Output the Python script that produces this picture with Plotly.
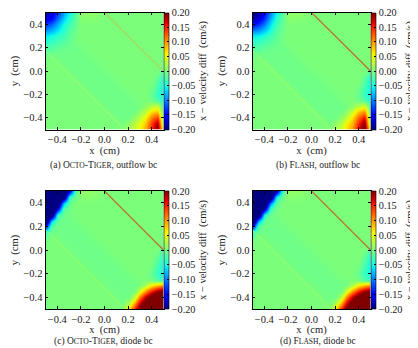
import numpy as np
import plotly.graph_objects as go

# ---------------- data ----------------
grid_x = [-0.50, -0.45, -0.40, -0.35, -0.30, -0.25, -0.20, -0.15, -0.10, -0.05, 0.00,
          0.05, 0.10, 0.15, 0.20, 0.25, 0.30, 0.35, 0.40, 0.45, 0.50]
grid_y = [0.50, 0.45, 0.40, 0.35, 0.30, 0.25, 0.20, 0.15, 0.10, 0.05, 0.00,
          -0.05, -0.10, -0.15, -0.20, -0.25, -0.30, -0.35, -0.40, -0.45, -0.50]

# rows listed top (y=0.5) to bottom (y=-0.5); columns x=-0.5 .. 0.5
vx_octo_outflow = [
    [-0.19, -0.17, -0.13, -0.09, -0.05, -0.02, 0.01, 0.012, 0.01, 0.006, 0, 0, 0, 0, 0, 0, 0, 0, 0, 0, 0],
    [-0.17, -0.15, -0.11, -0.07, -0.04, -0.015, 0.005, 0.006, 0.005, 0.003, 0, 0, 0, 0, 0, 0, 0, 0, 0, 0, 0],
    [-0.13, -0.11, -0.08, -0.05, -0.03, -0.01, 0, 0, 0, 0, 0, 0, 0, 0, 0, 0, 0, 0, 0, 0, 0],
    [-0.09, -0.08, -0.06, -0.04, -0.02, -0.008, 0, 0, 0, 0, 0, 0, 0, 0, 0, 0, 0, 0, 0, 0, 0],
    [-0.06, -0.05, -0.04, -0.03, -0.015, -0.005, 0, 0, 0, 0, 0, 0, 0, 0, 0, 0, 0, 0, 0, 0, 0],
    [-0.04, -0.035, -0.025, -0.02, -0.01, -0.004, 0, 0, 0, 0, 0, 0, 0, 0, 0, 0, 0, 0, 0, 0, 0],
    [-0.02, -0.02, -0.015, -0.01, -0.008, -0.006, -0.003, 0, 0, 0, 0, 0, 0, 0, 0, 0, 0, 0, 0, 0, 0],
    [-0.01, -0.008, -0.006, -0.006, -0.006, -0.006, -0.006, -0.003, 0, 0, 0, 0, 0, 0, 0, 0, 0, 0, 0, 0, 0],
    [-0.003, 0, -0.003, -0.006, -0.006, -0.006, -0.006, -0.006, -0.003, 0, 0, 0, 0, 0, 0, 0, 0, 0, 0, 0, 0],
    [0, 0, 0, -0.003, -0.006, -0.006, -0.006, -0.006, -0.006, -0.003, 0, 0, 0, 0, 0, 0, 0, 0, 0, 0, 0],
    [0, 0, 0, 0, -0.003, -0.006, -0.006, -0.006, -0.006, -0.006, -0.003, 0, 0, 0, 0, 0, 0, 0, 0, 0, -0.02],
    [0, 0, 0, 0, 0, -0.003, -0.006, -0.006, -0.006, -0.006, -0.006, -0.003, 0, 0, 0, 0, 0, 0, 0, -0.01, -0.04],
    [0, 0, 0, 0, 0, 0, -0.003, -0.006, -0.006, -0.006, -0.006, -0.006, -0.003, 0, 0, 0, 0, 0, 0, -0.02, -0.05],
    [0, 0, 0, 0, 0, 0, 0, -0.003, -0.006, -0.006, -0.006, -0.006, -0.006, -0.003, 0, 0, 0, 0, -0.005, -0.03, -0.05],
    [0, 0, 0, 0, 0, 0, 0, 0, -0.003, -0.006, -0.006, -0.006, -0.006, -0.006, -0.003, 0, 0, 0, -0.01, -0.035, -0.05],
    [0, 0, 0, 0, 0, 0, 0, 0, 0, -0.003, -0.006, -0.006, -0.006, -0.006, -0.006, -0.003, 0, 0, -0.005, -0.02, -0.045],
    [0, 0, 0, 0, 0, 0, 0, 0, 0, 0, -0.003, -0.006, -0.006, -0.006, -0.006, -0.006, -0.003, 0.01, 0.03, 0.04, -0.03],
    [0, 0, 0, 0, 0, 0, 0, 0, 0, 0, 0, -0.003, -0.006, -0.006, -0.006, -0.006, 0.01, 0.03, 0.07, 0.08, -0.02],
    [0, 0, 0, 0, 0, 0, 0, 0, 0, 0, 0, 0, -0.003, -0.006, -0.006, 0.01, 0.03, 0.06, 0.11, 0.14, -0.01],
    [0, 0, 0, 0, 0, 0, 0, 0, 0, 0, 0, 0, 0, -0.003, 0.01, 0.03, 0.05, 0.08, 0.14, 0.19, 0.0],
    [0, 0, 0, 0, 0, 0, 0, 0, 0, 0, 0, 0, 0, 0, 0.02, 0.04, 0.06, 0.09, 0.15, 0.20, 0.05],
]

vx_flash_outflow = [
    [-0.20, -0.19, -0.15, -0.10, -0.05, -0.02, 0.01, 0.012, 0.01, 0.006, 0, 0, 0, 0, 0, 0, 0, 0, 0, 0, 0],
    [-0.19, -0.17, -0.13, -0.08, -0.04, -0.015, 0.005, 0.006, 0.005, 0.003, 0, 0, 0, 0, 0, 0, 0, 0, 0, 0, 0],
    [-0.15, -0.13, -0.10, -0.06, -0.03, -0.01, 0, 0, 0, 0, 0, 0, 0, 0, 0, 0, 0, 0, 0, 0, 0],
    [-0.10, -0.09, -0.07, -0.045, -0.02, -0.008, 0, 0, 0, 0, 0, 0, 0, 0, 0, 0, 0, 0, 0, 0, 0],
    [-0.06, -0.055, -0.045, -0.03, -0.015, -0.005, 0, 0, 0, 0, 0, 0, 0, 0, 0, 0, 0, 0, 0, 0, 0],
    [-0.04, -0.035, -0.025, -0.02, -0.01, -0.004, 0, 0, 0, 0, 0, 0, 0, 0, 0, 0, 0, 0, 0, 0, 0],
    [-0.02, -0.02, -0.015, -0.01, -0.008, -0.006, -0.003, 0, 0, 0, 0, 0, 0, 0, 0, 0, 0, 0, 0, 0, 0],
    [-0.01, -0.008, -0.006, -0.006, -0.006, -0.006, -0.006, -0.003, 0, 0, 0, 0, 0, 0, 0, 0, 0, 0, 0, 0, 0],
    [-0.003, 0, -0.003, -0.006, -0.006, -0.006, -0.006, -0.006, -0.003, 0, 0, 0, 0, 0, 0, 0, 0, 0, 0, 0, 0],
    [0, 0, 0, -0.003, -0.006, -0.006, -0.006, -0.006, -0.006, -0.003, 0, 0, 0, 0, 0, 0, 0, 0, 0, 0, 0],
    [0, 0, 0, 0, -0.003, -0.006, -0.006, -0.006, -0.006, -0.006, -0.003, 0, 0, 0, 0, 0, 0, 0, 0, 0, -0.02],
    [0, 0, 0, 0, 0, -0.003, -0.006, -0.006, -0.006, -0.006, -0.006, -0.003, 0, 0, 0, 0, 0, 0, 0, -0.01, -0.045],
    [0, 0, 0, 0, 0, 0, -0.003, -0.006, -0.006, -0.006, -0.006, -0.006, -0.003, 0, 0, 0, 0, 0, 0, -0.02, -0.055],
    [0, 0, 0, 0, 0, 0, 0, -0.003, -0.006, -0.006, -0.006, -0.006, -0.006, -0.003, 0, 0, 0, 0, -0.005, -0.03, -0.055],
    [0, 0, 0, 0, 0, 0, 0, 0, -0.003, -0.006, -0.006, -0.006, -0.006, -0.006, -0.003, 0, 0, 0, -0.01, -0.035, -0.05],
    [0, 0, 0, 0, 0, 0, 0, 0, 0, -0.003, -0.006, -0.006, -0.006, -0.006, -0.006, -0.003, 0, 0, -0.005, -0.02, -0.045],
    [0, 0, 0, 0, 0, 0, 0, 0, 0, 0, -0.003, -0.006, -0.006, -0.006, -0.006, -0.006, -0.003, 0.01, 0.03, 0.05, -0.03],
    [0, 0, 0, 0, 0, 0, 0, 0, 0, 0, 0, -0.003, -0.006, -0.006, -0.006, -0.006, 0.01, 0.04, 0.08, 0.10, -0.02],
    [0, 0, 0, 0, 0, 0, 0, 0, 0, 0, 0, 0, -0.003, -0.006, -0.006, 0.01, 0.03, 0.07, 0.12, 0.16, -0.01],
    [0, 0, 0, 0, 0, 0, 0, 0, 0, 0, 0, 0, 0, -0.003, 0.01, 0.03, 0.06, 0.09, 0.15, 0.20, 0.0],
    [0, 0, 0, 0, 0, 0, 0, 0, 0, 0, 0, 0, 0, 0, 0.02, 0.04, 0.07, 0.10, 0.17, 0.22, 0.05],
]

vx_octo_diode = [
    [-0.25, -0.25, -0.25, -0.25, -0.17, -0.02, 0.01, 0.012, 0.01, 0.006, 0, 0, 0, 0, 0, 0, 0, 0, 0, 0, 0],
    [-0.25, -0.25, -0.25, -0.24, -0.035, -0.008, 0.005, 0.006, 0.005, 0.003, 0, 0, 0, 0, 0, 0, 0, 0, 0, 0, 0],
    [-0.25, -0.25, -0.25, -0.08, -0.012, 0, 0, 0, 0, 0, 0, 0, 0, 0, 0, 0, 0, 0, 0, 0, 0],
    [-0.25, -0.25, -0.16, -0.02, -0.005, 0, 0, 0, 0, 0, 0, 0, 0, 0, 0, 0, 0, 0, 0, 0, 0],
    [-0.25, -0.23, -0.035, -0.008, -0.003, 0, 0, 0, 0, 0, 0, 0, 0, 0, 0, 0, 0, 0, 0, 0, 0],
    [-0.25, -0.07, -0.012, -0.006, -0.006, -0.003, 0, 0, 0, 0, 0, 0, 0, 0, 0, 0, 0, 0, 0, 0, 0],
    [-0.15, -0.02, -0.006, -0.006, -0.006, -0.006, -0.003, 0, 0, 0, 0, 0, 0, 0, 0, 0, 0, 0, 0, 0, 0],
    [-0.035, -0.008, -0.006, -0.006, -0.006, -0.006, -0.006, -0.003, 0, 0, 0, 0, 0, 0, 0, 0, 0, 0, 0, 0, 0],
    [-0.01, 0, -0.003, -0.006, -0.006, -0.006, -0.006, -0.006, -0.003, 0, 0, 0, 0, 0, 0, 0, 0, 0, 0, 0, 0],
    [0, 0, 0, -0.003, -0.006, -0.006, -0.006, -0.006, -0.006, -0.003, 0, 0, 0, 0, 0, 0, 0, 0, 0, 0, 0],
    [0, 0, 0, 0, -0.003, -0.006, -0.006, -0.006, -0.006, -0.006, -0.003, 0, 0, 0, 0, 0, 0, 0, 0, 0, -0.02],
    [0, 0, 0, 0, 0, -0.003, -0.006, -0.006, -0.006, -0.006, -0.006, -0.003, 0, 0, 0, 0, 0, 0, 0, -0.01, -0.04],
    [0, 0, 0, 0, 0, 0, -0.003, -0.006, -0.006, -0.006, -0.006, -0.006, -0.003, 0, 0, 0, 0, 0, 0, -0.02, -0.05],
    [0, 0, 0, 0, 0, 0, 0, -0.003, -0.006, -0.006, -0.006, -0.006, -0.006, -0.003, 0, 0, 0, 0, -0.005, -0.03, -0.05],
    [0, 0, 0, 0, 0, 0, 0, 0, -0.003, -0.006, -0.006, -0.006, -0.006, -0.006, -0.003, 0, 0, 0, -0.01, -0.035, -0.05],
    [0, 0, 0, 0, 0, 0, 0, 0, 0, -0.003, -0.006, -0.006, -0.006, -0.006, -0.006, -0.003, 0, 0, -0.005, -0.02, -0.035],
    [0, 0, 0, 0, 0, 0, 0, 0, 0, 0, -0.003, -0.006, -0.006, -0.006, -0.006, -0.006, -0.003, 0.02, 0.06, 0.08, 0.10],
    [0, 0, 0, 0, 0, 0, 0, 0, 0, 0, 0, -0.003, -0.006, -0.006, -0.006, -0.006, 0.04, 0.10, 0.15, 0.19, 0.21],
    [0, 0, 0, 0, 0, 0, 0, 0, 0, 0, 0, 0, -0.003, -0.006, -0.006, 0.03, 0.11, 0.18, 0.23, 0.25, 0.25],
    [0, 0, 0, 0, 0, 0, 0, 0, 0, 0, 0, 0, 0, -0.003, 0.02, 0.09, 0.17, 0.23, 0.25, 0.25, 0.25],
    [0, 0, 0, 0, 0, 0, 0, 0, 0, 0, 0, 0, 0, 0, 0.07, 0.15, 0.22, 0.25, 0.25, 0.25, 0.25],
]

vx_flash_diode = [
    [-0.25, -0.25, -0.25, -0.25, -0.19, -0.03, 0.01, 0.012, 0.01, 0.006, 0, 0, 0, 0, 0, 0, 0, 0, 0, 0, 0],
    [-0.25, -0.25, -0.25, -0.24, -0.05, -0.01, 0.005, 0.006, 0.005, 0.003, 0, 0, 0, 0, 0, 0, 0, 0, 0, 0, 0],
    [-0.25, -0.25, -0.25, -0.10, -0.015, 0, 0, 0, 0, 0, 0, 0, 0, 0, 0, 0, 0, 0, 0, 0, 0],
    [-0.25, -0.25, -0.18, -0.025, -0.005, 0, 0, 0, 0, 0, 0, 0, 0, 0, 0, 0, 0, 0, 0, 0, 0],
    [-0.25, -0.23, -0.04, -0.008, -0.003, 0, 0, 0, 0, 0, 0, 0, 0, 0, 0, 0, 0, 0, 0, 0, 0],
    [-0.25, -0.08, -0.012, -0.006, -0.006, -0.003, 0, 0, 0, 0, 0, 0, 0, 0, 0, 0, 0, 0, 0, 0, 0],
    [-0.16, -0.02, -0.006, -0.006, -0.006, -0.006, -0.003, 0, 0, 0, 0, 0, 0, 0, 0, 0, 0, 0, 0, 0, 0],
    [-0.035, -0.008, -0.006, -0.006, -0.006, -0.006, -0.006, -0.003, 0, 0, 0, 0, 0, 0, 0, 0, 0, 0, 0, 0, 0],
    [-0.01, 0, -0.003, -0.006, -0.006, -0.006, -0.006, -0.006, -0.003, 0, 0, 0, 0, 0, 0, 0, 0, 0, 0, 0, 0],
    [0, 0, 0, -0.003, -0.006, -0.006, -0.006, -0.006, -0.006, -0.003, 0, 0, 0, 0, 0, 0, 0, 0, 0, 0, 0],
    [0, 0, 0, 0, -0.003, -0.006, -0.006, -0.006, -0.006, -0.006, -0.003, 0, 0, 0, 0, 0, 0, 0, 0, 0, -0.02],
    [0, 0, 0, 0, 0, -0.003, -0.006, -0.006, -0.006, -0.006, -0.006, -0.003, 0, 0, 0, 0, 0, 0, 0, -0.01, -0.045],
    [0, 0, 0, 0, 0, 0, -0.003, -0.006, -0.006, -0.006, -0.006, -0.006, -0.003, 0, 0, 0, 0, 0, 0, -0.02, -0.055],
    [0, 0, 0, 0, 0, 0, 0, -0.003, -0.006, -0.006, -0.006, -0.006, -0.006, -0.003, 0, 0, 0, 0, -0.005, -0.03, -0.055],
    [0, 0, 0, 0, 0, 0, 0, 0, -0.003, -0.006, -0.006, -0.006, -0.006, -0.006, -0.003, 0, 0, 0, -0.01, -0.035, -0.05],
    [0, 0, 0, 0, 0, 0, 0, 0, 0, -0.003, -0.006, -0.006, -0.006, -0.006, -0.006, -0.003, 0, 0, -0.005, -0.02, -0.035],
    [0, 0, 0, 0, 0, 0, 0, 0, 0, 0, -0.003, -0.006, -0.006, -0.006, -0.006, -0.006, -0.003, 0.02, 0.06, 0.08, 0.10],
    [0, 0, 0, 0, 0, 0, 0, 0, 0, 0, 0, -0.003, -0.006, -0.006, -0.006, -0.006, 0.04, 0.10, 0.15, 0.19, 0.21],
    [0, 0, 0, 0, 0, 0, 0, 0, 0, 0, 0, 0, -0.003, -0.006, -0.006, 0.03, 0.11, 0.18, 0.23, 0.25, 0.25],
    [0, 0, 0, 0, 0, 0, 0, 0, 0, 0, 0, 0, 0, -0.003, 0.02, 0.09, 0.17, 0.23, 0.25, 0.25, 0.25],
    [0, 0, 0, 0, 0, 0, 0, 0, 0, 0, 0, 0, 0, 0, 0.07, 0.15, 0.22, 0.25, 0.25, 0.25, 0.25],
]

# diagonal features (line endpoints in data units)
front_x = [0.0, 0.5]
front_y = [0.5, 0.0]
faint_x = [-0.5, 0.17]
faint_y = [0.17, -0.5]

x_ticks = [-0.4, -0.2, 0.0, 0.2, 0.4]
x_ticktext = ["\u22120.4", "\u22120.2", "0.0", "0.2", "0.4"]
y_ticks = [-0.4, -0.2, 0.0, 0.2, 0.4]
y_ticktext = ["\u22120.4", "\u22120.2", "0.0", "0.2", "0.4"]
cb_ticks = [-0.20, -0.15, -0.10, -0.05, 0.00, 0.05, 0.10, 0.15, 0.20]
cb_ticktext = ["\u22120.20", "\u22120.15", "\u22120.10", "\u22120.05", "0.00", "0.05", "0.10", "0.15", "0.20"]

sc = "font-size:7.6px"
captions = [
    f"(a) O<span style='{sc}'>CTO</span>-T<span style='{sc}'>IGER</span>, outflow bc",
    f"(b) F<span style='{sc}'>LASH</span>, outflow bc",
    f"(c) O<span style='{sc}'>CTO</span>-T<span style='{sc}'>IGER</span>, diode bc",
    f"(d) F<span style='{sc}'>LASH</span>, diode bc",
]
fields = [vx_octo_outflow, vx_flash_outflow, vx_octo_diode, vx_flash_diode]

# ---------------- style ----------------
OFF = 8                      # page body margin of the viewer
W, H = 418 - OFF, 348 - OFF
FONT = "Liberation Serif"
# matplotlib 'jet'
_r = ([0, 0.35, 0.66, 0.89, 1], [0, 0, 1, 1, 0.5])
_g = ([0, 0.125, 0.375, 0.64, 0.91, 1], [0, 0, 1, 1, 0, 0])
_b = ([0, 0.11, 0.34, 0.65, 1], [0.5, 1, 1, 0, 0])
stops = np.linspace(0, 1, 41)
jet = []
for s in stops:
    r = np.interp(s, *_r); g = np.interp(s, *_g); b = np.interp(s, *_b)
    jet.append([float(s), f"rgb({int(round(r*255))},{int(round(g*255))},{int(round(b*255))})"])

# panel boxes in viewport pixels: (left, right, top, bottom)
boxes = [(45.5, 163.5, 12.5, 129.5), (252.5, 370.5, 12.5, 129.5),
         (45.5, 163.5, 191, 309), (252.5, 370.5, 191, 309)]
cap_pos = [(103, 165.5), (318, 165.5), (103, 341.5), (318, 341.5)]
front_col = ["rgba(215,175,70,0.85)", "rgb(188,112,40)", "rgb(188,112,40)", "rgb(188,112,40)"]
front_w = [1.0, 1.2, 1.2, 1.2]


def px(v):
    return (v - OFF) / W


def py(v):
    return 1 - (v - OFF) / H


fig = go.Figure()
layout = dict(width=W, height=H, margin=dict(l=0, r=0, t=0, b=0),
              paper_bgcolor="white", plot_bgcolor="white",
              font=dict(family=FONT, size=10.5, color="#1a1a1a"), showlegend=False)

for k in range(4):
    L, R, T, B = boxes[k]
    xa = "x" if k == 0 else f"x{k+1}"
    ya = "y" if k == 0 else f"y{k+1}"
    z = fields[k][::-1]
    yy = grid_y[::-1]
    fig.add_trace(go.Heatmap(
        x=grid_x, y=yy, z=z, xaxis=xa, yaxis=ya,
        zmin=-0.2, zmax=0.2, zsmooth="best", colorscale=jet, hoverinfo="skip",
        colorbar=dict(x=px(R), xanchor="left", xpad=0, xref="paper",
                      y=py((T + B) / 2), yanchor="middle", yref="paper",
                      len=(B - T) / H, lenmode="fraction", ypad=0,
                      thickness=4.5, outlinewidth=0.6, outlinecolor="black",
                      tickvals=cb_ticks, ticktext=cb_ticktext, ticks="inside",
                      ticklen=2, tickwidth=0.6, tickcolor="black",
                      ticklabeloverflow="allow",
                      tickfont=dict(family=FONT, size=10.2, color="#1a1a1a"),
                      title=dict(text="x \u2212 velocity diff\u00a0\u00a0(cm/s)", side="right",
                                 font=dict(family=FONT, size=10.5, color="#1a1a1a"))),
    ))
    fig.add_trace(go.Scatter(x=faint_x, y=faint_y, mode="lines", xaxis=xa, yaxis=ya,
                             line=dict(color="rgba(170,252,95,0.9)", width=1), hoverinfo="skip"))
    fig.add_trace(go.Scatter(x=front_x, y=front_y, mode="lines", xaxis=xa, yaxis=ya,
                             line=dict(color=front_col[k], width=front_w[k]), hoverinfo="skip"))
    axcommon = dict(range=[-0.5, 0.5], showgrid=False, zeroline=False, showline=True,
                    linecolor="black", linewidth=0.8, mirror="ticks", ticks="inside",
                    ticklen=3, tickwidth=0.6, tickcolor="black",
                    tickfont=dict(family=FONT, size=10.5, color="#1a1a1a"))
    layout["xaxis" if k == 0 else f"xaxis{k+1}"] = dict(
        domain=[px(L), px(R)], anchor=ya, tickvals=x_ticks, ticktext=x_ticktext,
        title=dict(text="x\u00a0\u00a0(cm)", standoff=2, font=dict(family=FONT, size=10.5)), **axcommon)
    layout["yaxis" if k == 0 else f"yaxis{k+1}"] = dict(
        domain=[py(B), py(T)], anchor=xa, tickvals=y_ticks, ticktext=y_ticktext,
        title=dict(text="y\u00a0\u00a0(cm)", standoff=2, font=dict(family=FONT, size=10.5)), **axcommon)

anns = []
for k in range(4):
    cx, cy = cap_pos[k]
    anns.append(dict(text=captions[k], x=px(cx), y=py(cy), xref="paper", yref="paper",
                     showarrow=False, xanchor="center", yanchor="middle",
                     font=dict(family=FONT, size=9.5, color="#1a1a1a")))
layout["annotations"] = anns
fig.update_layout(**layout)
fig.write_html("out.html")
